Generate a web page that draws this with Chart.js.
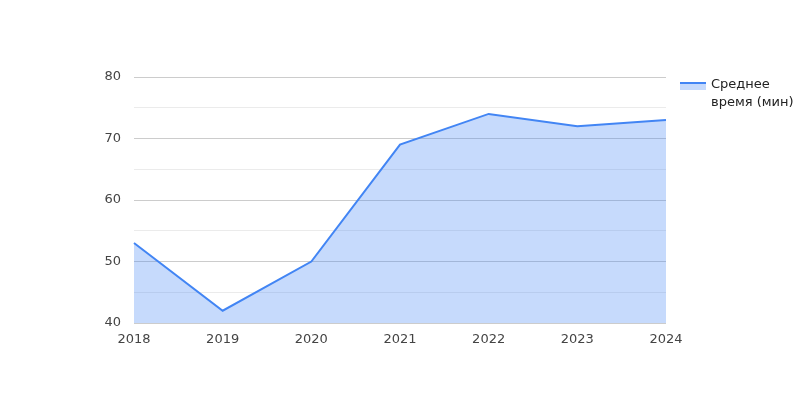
<!DOCTYPE html>
<html>
<head>
<meta charset="utf-8">
<script src="https://cdn.jsdelivr.net/npm/chart.js@4/dist/chart.umd.min.js"></script>
<style>
    body { margin: 0; background: #fff; }
    #wrap { position: relative; width: 800px; height: 400px; }
    #legend {
        position: absolute; left: 680px; top: 75px;
        font: 13px "DejaVu Sans", sans-serif; color: #222; line-height: 18px;
    }
    #legend .swatch {
        position: absolute; left: 0; top: 7px; width: 26px; height: 6px;
        border-top: 2px solid #4285f4; background: rgba(66, 133, 244, 0.3);
    }
    #legend .text { margin-left: 31px; }
</style>
</head>
<body>
<div id="wrap">
    <canvas id="myChart" width="800" height="400"></canvas>
    <div id="legend"><span class="swatch"></span><div class="text">Среднее<br>время (мин)</div></div>
</div>
<script>
    var years = ['2018', '2019', '2020', '2021', '2022', '2023', '2024'];
    var avgTime = [53, 42, 50, 69, 74, 72, 73];
    var seriesLabel = 'Среднее время (мин)';

    const ctx = document.getElementById('myChart');
    const myChart = new Chart(ctx, {
        type: 'line',
        data: {
            labels: years,
            datasets: [{
                label: seriesLabel,
                data: avgTime,
                borderColor: '#4285f4',
                backgroundColor: 'rgba(66, 133, 244, 0.3)',
                borderWidth: 2,
                fill: 'start',
                pointRadius: 0,
                tension: 0
            }]
        },
        options: {
            responsive: false,
            animation: false,
            layout: { padding: { left: 0, right: 134, top: 77, bottom: 0 } },
            plugins: { legend: { display: false }, tooltip: { enabled: false } },
            scales: {
                x: {
                    offset: false,
                    grid: { display: false },
                    border: { display: false },
                    ticks: { color: '#444', padding: 1, maxRotation: 0, font: { family: 'DejaVu Sans', size: 13 } },
                    afterFit: function (s) { s.height = 77; }
                },
                y: {
                    min: 40,
                    max: 80,
                    ticks: {
                        stepSize: 5,
                        color: '#444',
                        padding: 13,
                        font: { family: 'DejaVu Sans', size: 13 },
                        callback: function (v) { return v % 10 === 0 ? v : ''; }
                    },
                    grid: {
                        drawTicks: false,
                        color: function (c) { return c.tick && c.tick.value % 10 === 0 ? '#cccccc' : '#ebebeb'; }
                    },
                    border: { display: false },
                    afterFit: function (s) { s.width = 134; }
                }
            }
        }
    });
</script>
</body>
</html>
